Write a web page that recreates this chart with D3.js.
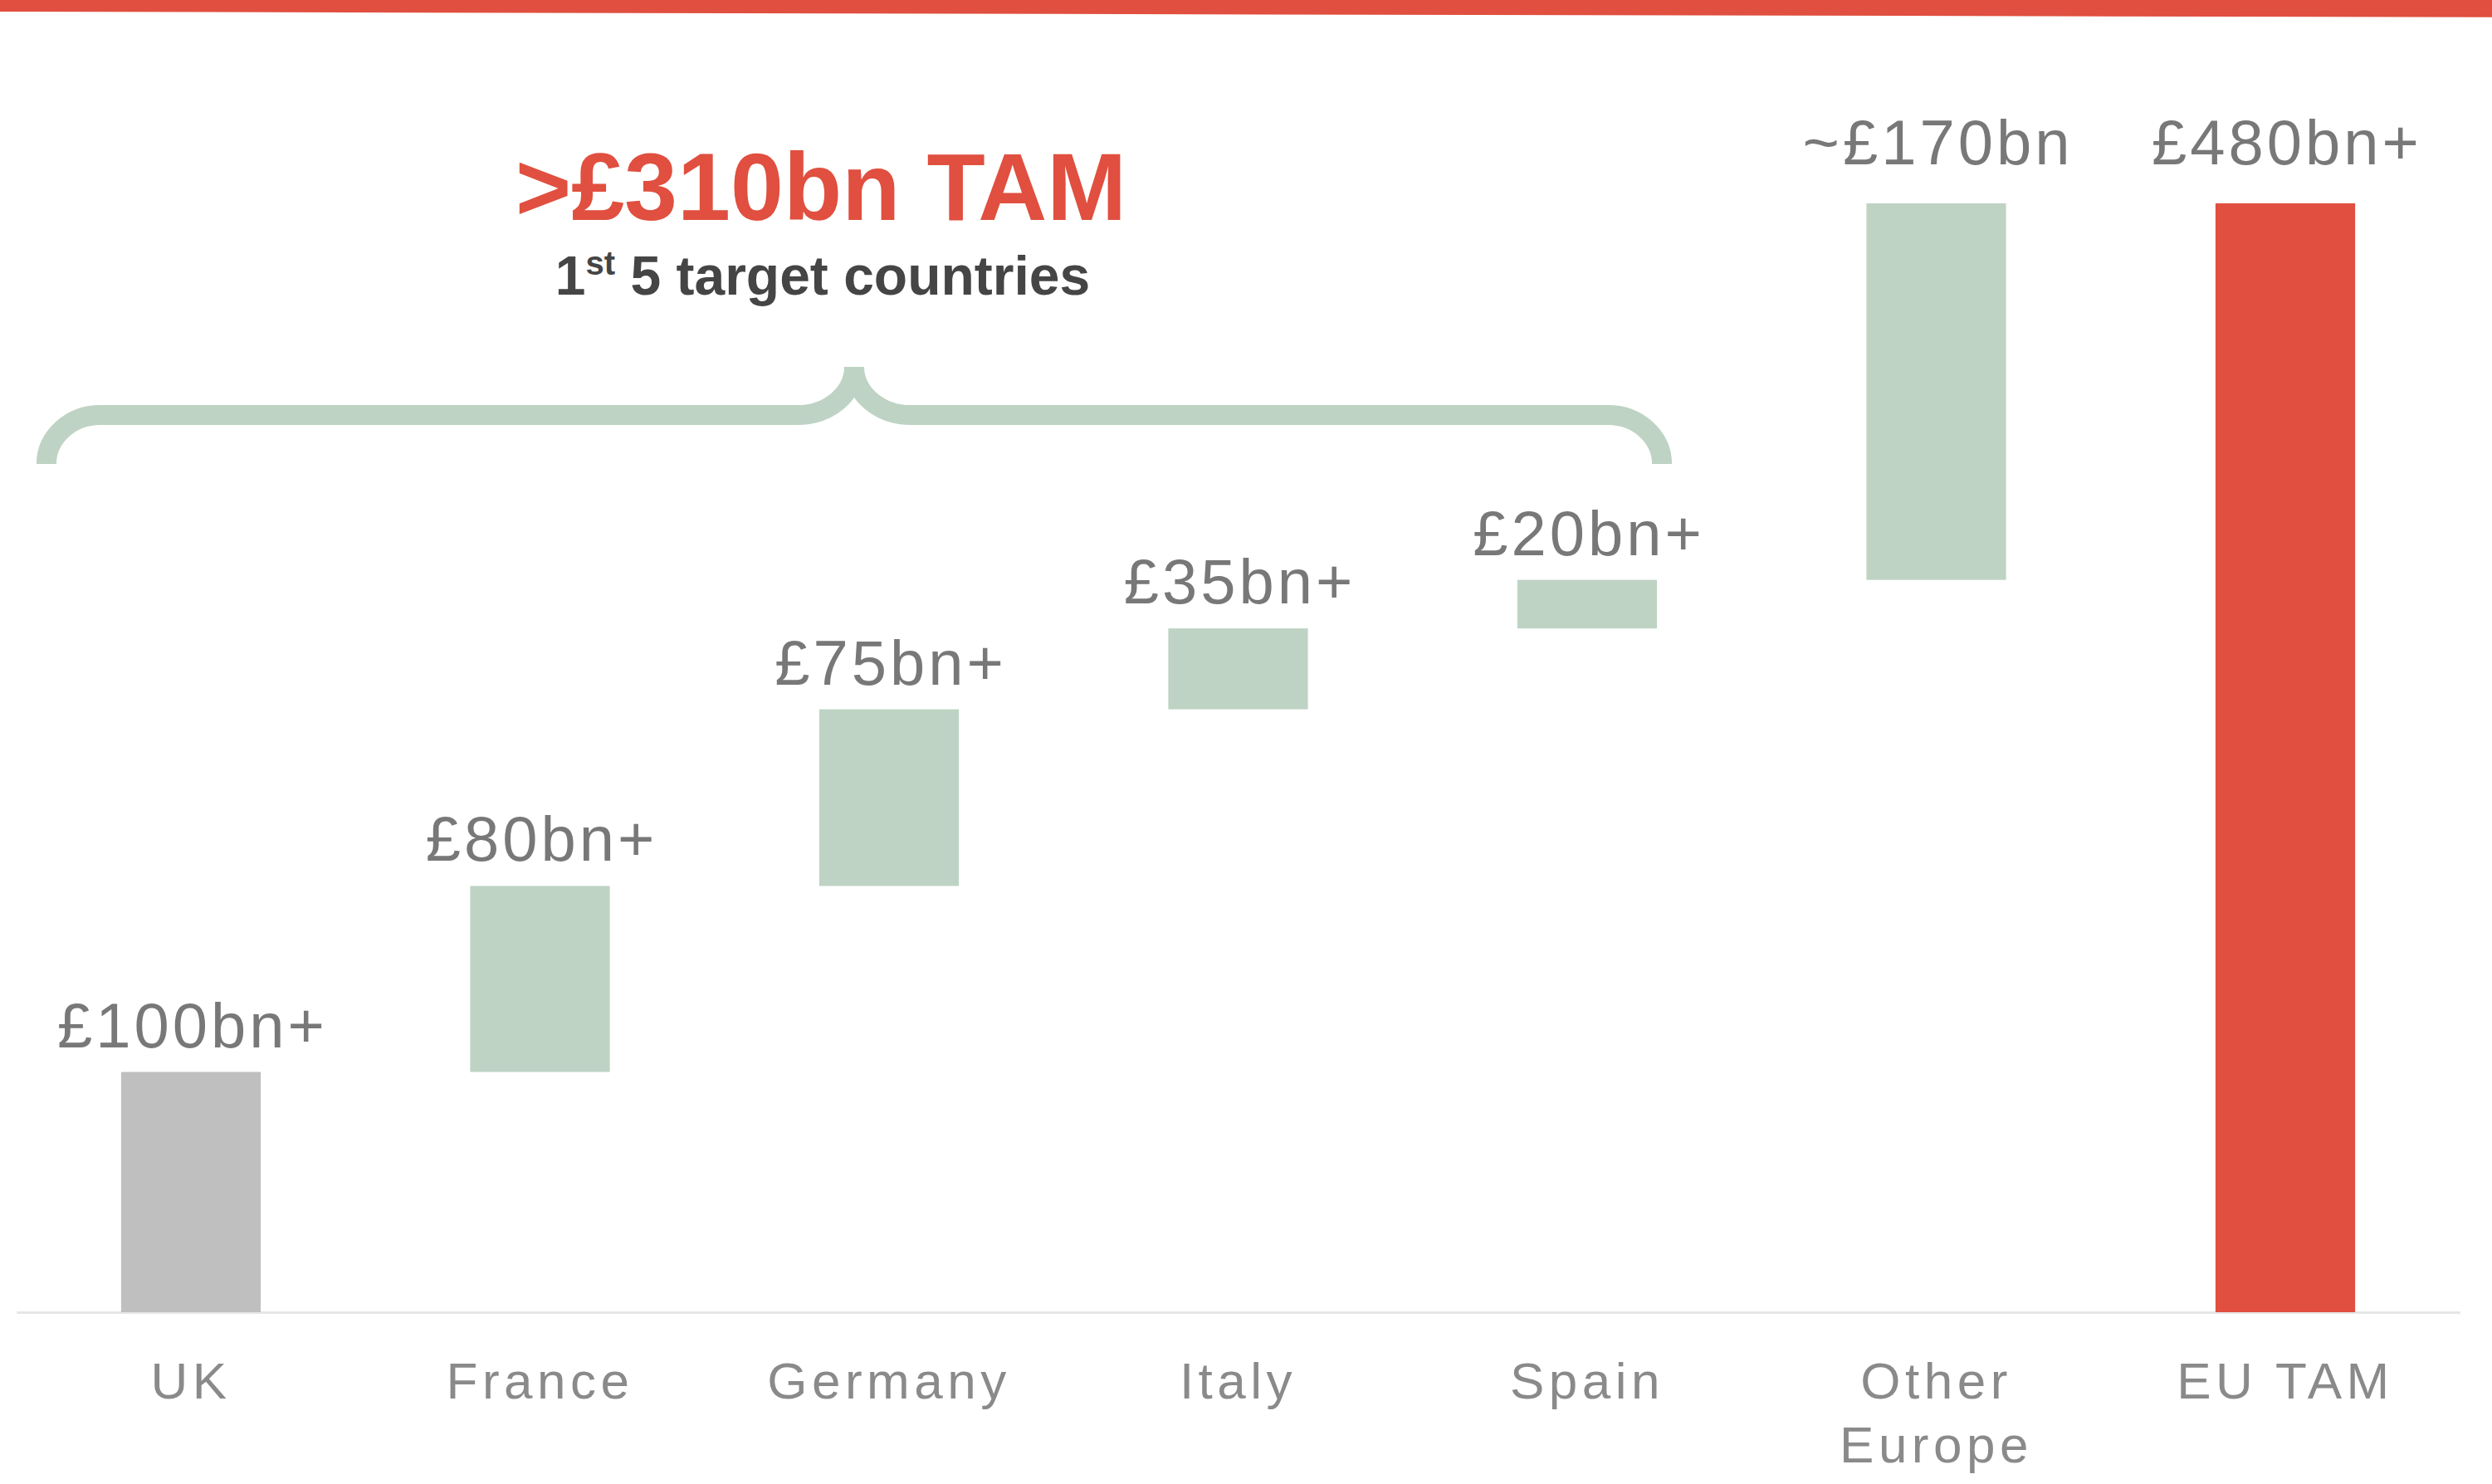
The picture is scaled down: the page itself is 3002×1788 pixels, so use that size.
<!DOCTYPE html>
<html>
<head>
<meta charset="utf-8">
<script src="https://cdn.jsdelivr.net/npm/d3@7"></script>
<style>
  html, body { margin: 0; padding: 0; background: #fff; }
  svg { display: block; }
</style>
</head>
<body>
<div id="chart"></div>
<script>
// ==============================
// 1) DATA
// ==============================

const categories = ['UK', 'France', 'Germany', 'Italy', 'Spain', 'Other Europe', 'EU TAM'];
// £bn (last one is the total)
const values = [104, 80.5, 76.5, 35, 21, 163, 480];
const valueLabels = ['£100bn+', '£80bn+', '£75bn+', '£35bn+', '£20bn+', '~£170bn', '£480bn+'];
const barTypes = ['base', 'step', 'step', 'step', 'step', 'step', 'total'];
const yDomain = [0, 480];

const headline = '>£310bn TAM';
const subhead = ['1', 'st', ' 5 target countries'];

// waterfall: each step starts where the previous one ended
function buildBars() {
  let running = 0;
  return categories.map((c, i) => {
    let start, end;
    if (barTypes[i] === 'total') {
      start = 0;
      end = values[i];
    } else {
      start = running;
      end = running + values[i];
      running = end;
    }
    return { category: c, start, end, label: valueLabels[i], type: barTypes[i] };
  });
}

// ==============================
// 2) RENDER
// ==============================

function renderWaterfall(data, selector) {
  const W = 3002;
  const H = 1788;
  const baseY = 1581;
  const topY = 245;

  const colors = { base: '#bfbfbf', step: '#bed3c4', total: '#e04f3f' };
  const red = '#e04f3f';
  const font = '"Liberation Sans", Arial, sans-serif';

  const svg = d3
    .select(selector)
    .append('svg')
    .attr('width', W)
    .attr('height', H)
    .style('background', '#fff');

  // red band across the top (slightly slanted)
  svg
    .append('path')
    .attr('d', `M0,0H${W}V20.7L0,14Z`)
    .attr('fill', red);

  // scales
  const x = d3
    .scaleBand()
    .domain(categories)
    .range([19.75, 2963.25])
    .paddingInner(0.6)
    .paddingOuter(0.3);

  const y = d3.scaleLinear().domain(yDomain).range([baseY, topY]);

  // X axis (baseline + category labels)
  const xAxisG = svg
    .append('g')
    .attr('transform', `translate(0,${baseY})`)
    .call(d3.axisBottom(x).tickSize(0).tickSizeOuter(0));

  xAxisG.select('.domain').attr('stroke', '#e6e6e6').attr('stroke-width', 3);

  xAxisG
    .attr('font-family', font)
    .attr('font-size', 62)
    .selectAll('.tick text')
    .attr('fill', '#8a8a8a')
    .attr('letter-spacing', 5.5)
    .each(function (d) {
      const t = d3.select(this);
      t.text(null).attr('y', null).attr('dy', null);
      // wrap long names onto two lines
      const words = d.split(' ');
      const lines = [];
      let line = [];
      words.forEach((w) => {
        const probe = t.append('tspan').text([...line, w].join(' '));
        const wide = probe.node().getComputedTextLength() > 330;
        probe.remove();
        if (wide && line.length) {
          lines.push(line.join(' '));
          line = [w];
        } else {
          line.push(w);
        }
      });
      lines.push(line.join(' '));
      lines.forEach((l, i) => {
        t.append('tspan')
          .attr('x', 0)
          .attr('y', 104 + i * 77)
          .text(l);
      });
    });

  // bars
  svg
    .selectAll('rect.bar')
    .data(data)
    .join('rect')
    .attr('class', 'bar')
    .attr('x', (d) => x(d.category))
    .attr('width', x.bandwidth())
    .attr('y', (d) => y(d.end))
    .attr('height', (d) => y(d.start) - y(d.end))
    .attr('fill', (d) => colors[d.type]);

  // value labels above bars (a bit more room for the ones at the top)
  svg
    .selectAll('text.value')
    .data(data)
    .join('text')
    .attr('class', 'value')
    .attr('x', (d) => x(d.category) + x.bandwidth() / 2 + 2)
    .attr('y', (d) => y(d.end) - (y(d.end) - topY < 5 ? 47 : 30))
    .attr('text-anchor', 'middle')
    .attr('font-family', font)
    .attr('font-size', 76)
    .attr('letter-spacing', 4)
    .attr('fill', '#787878')
    .text((d) => d.label);

  // curly bracket over the first five countries
  const bLeft = x('UK') - 90;
  const bRight = x('Spain') + x.bandwidth() + 6;
  const bMid = (bLeft + bRight) / 2;
  const yEnd = 559;
  const yBar = 500;
  const yTip = 442;
  const k = 0.5523;
  const rx = 65;
  const tipRx = 68;

  const p = d3.path();
  // left half
  p.moveTo(bLeft, yEnd);
  p.bezierCurveTo(bLeft, yEnd - k * (yEnd - yBar), bLeft + rx * (1 - k), yBar, bLeft + rx, yBar);
  p.lineTo(bMid - tipRx, yBar);
  p.bezierCurveTo(bMid - tipRx + k * tipRx, yBar, bMid, yTip + k * (yBar - yTip), bMid, yTip);
  // right half
  p.moveTo(bRight, yEnd);
  p.bezierCurveTo(bRight, yEnd - k * (yEnd - yBar), bRight - rx * (1 - k), yBar, bRight - rx, yBar);
  p.lineTo(bMid + tipRx, yBar);
  p.bezierCurveTo(bMid + tipRx - k * tipRx, yBar, bMid, yTip + k * (yBar - yTip), bMid, yTip);

  svg
    .append('path')
    .attr('d', p.toString())
    .attr('fill', 'none')
    .attr('stroke', colors.step)
    .attr('stroke-width', 24);

  // headline + subhead
  svg
    .append('text')
    .attr('x', bMid - 40)
    .attr('y', 265)
    .attr('text-anchor', 'middle')
    .attr('font-family', font)
    .attr('font-weight', 'bold')
    .attr('font-size', 115)
    .attr('fill', red)
    .text(headline);

  const sub = svg
    .append('text')
    .attr('x', bMid - 38)
    .attr('y', 355)
    .attr('text-anchor', 'middle')
    .attr('font-family', font)
    .attr('font-weight', 'bold')
    .attr('font-size', 66)
    .attr('fill', '#454545');
  sub.append('tspan').text(subhead[0]);
  sub.append('tspan').attr('font-size', 40).attr('dy', -24).text(subhead[1]);
  sub.append('tspan').attr('dy', 24).text(subhead[2]);
}

renderWaterfall(buildBars(), '#chart');
</script>
</body>
</html>
